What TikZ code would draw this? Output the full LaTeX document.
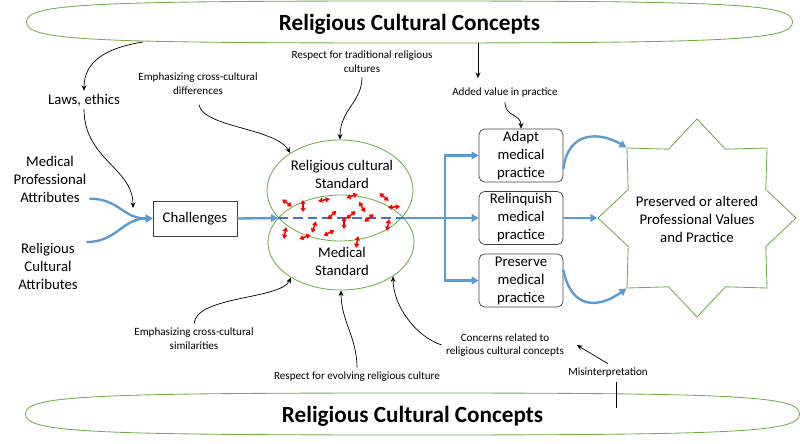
\documentclass[tikz,border=0pt]{standalone}
\usepackage{fontspec}
\setmainfont{Carlito}
\usetikzlibrary{positioning, shapes.geometric, arrows.meta}
\definecolor{cgreen}{RGB}{112,173,71}
\definecolor{cblue}{RGB}{91,155,213}
\definecolor{cdash}{RGB}{68,114,196}
\definecolor{cbox}{RGB}{64,64,64}
\tikzset{
  concept/.style={font=\fontsize{16.5}{20}\selectfont\bfseries, inner sep=0pt},
  conceptline/.style={draw=cgreen, line width=0.6pt},
  standard/.style={ellipse, draw=cgreen, line width=0.6pt, minimum width=3.65cm, inner sep=0pt},
  attr/.style={font=\fontsize{10.5}{12.8}\selectfont, align=center, inner sep=2pt},
  chalbox/.style={rectangle, draw=cbox, line width=0.5pt, minimum width=2.1cm,
    minimum height=0.875cm, font=\fontsize{10.5}{12.8}\selectfont},
  choice/.style={rectangle, rounded corners=4pt, draw=cbox, line width=0.5pt,
    minimum width=2.1cm, minimum height=1.325cm, align=center, inner sep=0pt,
    font=\fontsize{10.5}{12.8}\selectfont},
  outcome/.style={star, star points=8, star point ratio=1.33, draw=cgreen,
    line width=0.6pt, minimum size=4.95cm, inner sep=0pt},
  note/.style={font=\fontsize{7.9}{9.8}\selectfont, align=center, inner sep=3pt},
  flow/.style={draw=cblue, line width=1.7pt, -{Triangle[length=5pt,width=5.5pt]}},
  lens/.style={draw=cdash, line width=1.7pt, dash pattern=on 7pt off 3.5pt},
  cue/.style={draw=black, line width=0.5pt, -{Stealth[length=4pt,width=3.5pt]}},
  strain/.style={draw=red, line width=1.1pt,
    {Triangle[length=3pt,width=3.6pt]}-{Triangle[length=3pt,width=3.6pt]}}
}

\begin{document}
\begin{tikzpicture}[x=0.025cm, y=-0.025cm]
\useasboundingbox (0,0) rectangle (800,444);

% Outer concept bands
\node[concept] (topcc) at (409.5,24) {Religious Cultural Concepts};
\draw[conceptline, shift={(409.5,22)}] (-383,0) .. controls (-383,-17.9) and (-325.6,-21) .. (0,-21)
  .. controls (325.6,-21) and (383,-17.9) .. (383,0) .. controls (383,17.9) and (325.6,21) .. (0,21)
  .. controls (-325.6,21) and (-383,17.9) .. cycle;
\node[concept] (botcc) at (412.5,416) {Religious Cultural Concepts};
\draw[conceptline, shift={(412.5,414)}] (-387,0) .. controls (-387,-17.9) and (-329,-21) .. (0,-21)
  .. controls (329,-21) and (387,-17.9) .. (387,0) .. controls (387,17.9) and (329,21) .. (0,21)
  .. controls (-329,21) and (-387,17.9) .. cycle;
\coordinate (lawsfrom) at (143,42);
\coordinate (addfrom) at (478,43);
\coordinate (misfrom) at (616,408);

% Attributes and challenges
\node[attr] (laws) at (84,100) {Laws, ethics};
\node[attr] (medattr) at (50,179) {Medical\\Professional\\Attributes};
\node[attr] (relattr) at (48,266) {Religious\\Cultural\\Attributes};
\node[chalbox] (chal) at (195,218.5) {Challenges};
\coordinate (lawsto) at (133,208);

% Standards
\node[standard, minimum height=2.525cm] (relstd) at (340,190.5) {};
\node[standard, minimum height=2.375cm] (medstd) at (341,242.5) {};
\node[attr] (reltext) at (342,174) {Religious cultural\\Standard};
\node[attr] (medtext) at (342,261) {Medical\\Standard};
\coordinate (lensL) at (278,218);
\coordinate (lensR) at (404,218);
\coordinate (fork) at (445,218);

% Practice choices
\node[choice] (adapt) at (521,155.5) {Adapt\\medical\\practice};
\node[choice] (relinq) at (521,218) {Relinquish\\medical\\practice};
\node[choice] (preserve) at (521,280.5) {Preserve\\medical\\practice};

% Outcome
\node[outcome] (outcome) at (697,218) {};
\node[attr] (outtext) at (697,219) {Preserved or altered\\Professional Values\\and Practice};

% Notes
\node[note] (diffs) at (198,84) {Emphasizing cross-cultural\\differences};
\node[note] (resptrad) at (362,62) {Respect for traditional religious\\cultures};
\node[note] (addval) at (505,93) {Added value in practice};
\node[note] (sims) at (194,339) {Emphasizing cross-cultural\\similarities};
\node[note] (evolving) at (357,377) {Respect for evolving religious culture};
\node[note] (concerns) at (505,345) {Concerns related to\\religious cultural concepts};
\node[note] (misint) at (608,373) {Misinterpretation};

% Blue flow
\draw[flow] ([yshift=-14pt]medattr.east) .. controls +(30,0) and +(-30,0) .. (chal.west);
\draw[flow] ([xshift=4pt,yshift=17pt]relattr.east) .. controls +(30,0) and +(-30,0) .. (chal.west);
\draw[flow] (chal.east) -- (lensL);
\draw[lens] (lensL) -- (lensR);
\draw[flow, -] (lensR) -- (fork);
\draw[flow] (fork) |- (adapt.west);
\draw[flow] (fork) -- (relinq.west);
\draw[flow] (fork) |- (preserve.west);
\draw[flow] ([yshift=-9.6pt]adapt.east) .. controls +(5,-40) and +(-25,-15) .. (outcome.135);
\draw[flow] (relinq.east) -- (outcome.180);
\draw[flow] ([yshift=7.5pt]preserve.east) .. controls +(8,40) and +(-28,20) .. (outcome.225);

% Tensions in the overlap
\foreach \x/\y/\a in {287/203/-35, 303/206/90, 324/200/10, 352/196/20, 384/197/-40,
  394/207/5, 362/207/-60, 332/215/45, 351/215/40, 369/218/40, 314/227/70, 344/223/90,
  388/225/80, 285/233/80, 305/237/20, 329/233/25, 357/242/80}
  \draw[strain] (\x,\y) ++({-\a}:-6) -- ++({-\a}:12);

% Black cues
\draw[cue] (lawsfrom) .. controls (105,48) and (84,62) .. (laws.north);
\draw[cue] (laws.south) .. controls +(0,50) and +(0,-40) .. (lawsto);
\draw[cue, shorten <=4pt] (diffs.south) .. controls +(5,28) and +(-15,-25) .. (relstd.143);
\draw[cue] (resptrad.south) .. controls +(0,25) and +(0,-30) .. (relstd.north);
\draw[cue, shorten >=4pt] (addfrom) -- (addfrom |- addval.north);
\draw[cue] (addval.south) .. controls +(0,15) and +(0,-15) .. (adapt.north);
\draw[cue] (sims.north) .. controls +(2,-28) and +(-10,22) .. (medstd.215);
\draw[cue] (evolving.north) .. controls +(0,-30) and +(0,30) .. (medstd.south);
\draw[cue] (concerns.west) .. controls +(-25,-8) and +(0,30) .. (medstd.327);
\draw[cue] (misint.north) -- ([xshift=6pt]concerns.east);
\draw[cue, -] (misfrom) -- (misfrom |- misint.south);

\end{tikzpicture}
\end{document}
